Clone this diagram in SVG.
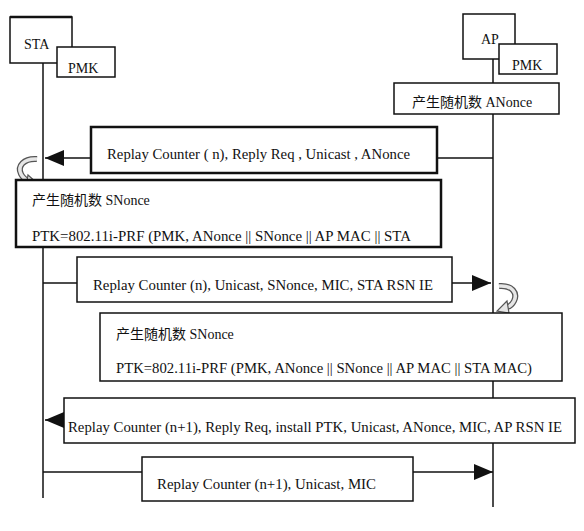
<svg xmlns="http://www.w3.org/2000/svg" width="584" height="531" viewBox="0 0 584 531">
<style>
text{font-family:"Liberation Serif","Noto Sans CJK SC",serif;font-size:14px;fill:#111}
.box{fill:#fff;stroke:#111;stroke-width:1.5}
.thick{fill:#fff;stroke:#111;stroke-width:2.5}
.ln{stroke:#111;stroke-width:1.5;fill:none}
.cband{fill:none;stroke:#555;stroke-width:6;stroke-linecap:butt}
.cfill{fill:none;stroke:#e6e6e6;stroke-width:3.5;stroke-linecap:butt}
.chead{fill:#e6e6e6;stroke:#555;stroke-width:1.2}
</style>
<defs>
<marker id="ah" markerUnits="userSpaceOnUse" markerWidth="20" markerHeight="18" refX="19" refY="9" orient="auto">
<path d="M0,1 L19,9 L0,17 z" fill="#111"/>
</marker>
</defs>
<rect width="584" height="531" fill="#fff"/>
<g id="connectors">
<line class="ln" x1="43" y1="63" x2="43" y2="498"/>
<line class="ln" x1="493" y1="59" x2="493" y2="507"/>
<line class="ln" x1="493" y1="158" x2="45" y2="158" marker-end="url(#ah)"/>
<line class="ln" x1="43" y1="283" x2="491" y2="283" marker-end="url(#ah)"/>
<line class="ln" x1="493" y1="420" x2="45" y2="420" marker-end="url(#ah)"/>
<line class="ln" x1="43" y1="472" x2="493" y2="472" marker-end="url(#ah)"/>
</g>
<g id="sta">
<rect class="box" x="10" y="17" width="62" height="46"/>
<line x1="10" y1="17" x2="72" y2="17" stroke="#111" stroke-width="2.5"/>
<text x="24" y="49">STA</text>
</g>
<g id="sta-pmk">
<rect class="box" x="57" y="47" width="58" height="30"/>
<text x="68" y="73">PMK</text>
</g>
<g id="ap">
<rect class="box" x="463" y="14" width="52" height="45"/>
<text x="481" y="44">AP</text>
</g>
<g id="ap-pmk">
<rect class="box" x="499" y="44" width="58" height="30"/>
<text x="512" y="70">PMK</text>
</g>
<g id="ap-anonce">
<rect class="box" x="394" y="83" width="165" height="31"/>
<text x="412" y="107">产生随机数 ANonce</text>
</g>
<g id="msg1">
<rect class="thick" x="91" y="127" width="346" height="46"/>
<text x="107" y="159" textLength="303" lengthAdjust="spacingAndGlyphs">Replay Counter ( n), Reply Req , Unicast , ANonce</text>
</g>
<g id="sta-cycle">
<path class="cband" d="M37,159 C24,158 17,166 21,174 C23,178 26,180 29,181"/>
<path class="cfill" d="M37,159 C24,158 17,166 21,174 C23,178 26,180 29,181"/>
<polygon class="chead" points="28,175 38,184 26,187"/>
</g>
<g id="sta-calc">
<rect class="thick" x="16" y="180" width="425" height="67"/>
<text x="32" y="205">产生随机数 SNonce</text>
<text x="32" y="241" textLength="379" lengthAdjust="spacingAndGlyphs">PTK=802.11i-PRF (PMK, ANonce || SNonce || AP MAC || STA</text>
</g>
<g id="msg2">
<rect class="box" x="77" y="257" width="375" height="45"/>
<text x="93" y="290" textLength="340" lengthAdjust="spacingAndGlyphs">Replay Counter (n), Unicast, SNonce, MIC, STA RSN IE</text>
</g>
<g id="ap-cycle">
<path class="cband" d="M499,286 C512,285 518,293 514,301 C512,305 509,307 506,307"/>
<path class="cfill" d="M499,286 C512,285 518,293 514,301 C512,305 509,307 506,307"/>
<polygon class="chead" points="507,301 497,311 509,313"/>
</g>
<g id="ap-calc">
<rect class="box" x="100" y="313" width="462" height="68"/>
<text x="116" y="339">产生随机数 SNonce</text>
<text x="116" y="373" textLength="416" lengthAdjust="spacingAndGlyphs">PTK=802.11i-PRF (PMK, ANonce || SNonce || AP MAC || STA MAC)</text>
</g>
<g id="msg3">
<rect class="box" x="64" y="398" width="511" height="45"/>
<text x="68" y="432" textLength="494" lengthAdjust="spacingAndGlyphs">Replay Counter (n+1), Reply Req, install PTK, Unicast, ANonce, MIC, AP RSN IE</text>
</g>
<g id="msg4">
<rect class="box" x="142" y="457" width="271" height="44"/>
<text x="157" y="489" textLength="219" lengthAdjust="spacingAndGlyphs">Replay Counter (n+1), Unicast, MIC</text>
</g>
</svg>
